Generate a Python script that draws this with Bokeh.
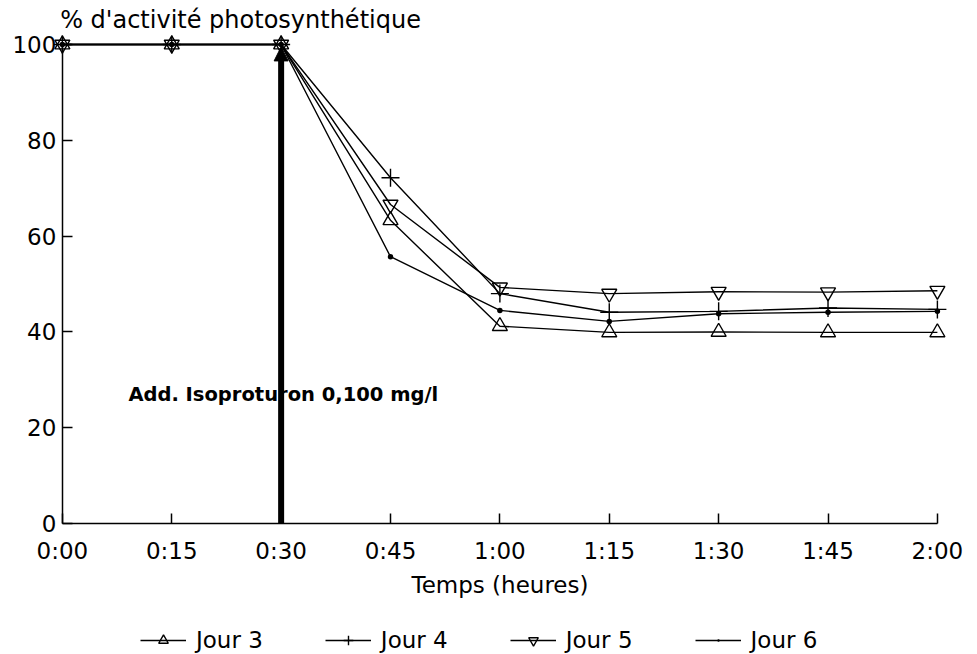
from bokeh.plotting import figure
from bokeh.models import (FixedTicker, Legend, LegendItem, Arrow, NormalHead, Label)
from bokeh.embed import file_html
from bokeh.resources import INLINE

# ---- data ----
minutes = [0, 15, 30, 45, 60, 75, 90, 105, 120]
tick_labels = ["0:00", "0:15", "0:30", "0:45", "1:00", "1:15", "1:30", "1:45", "2:00"]
y_ticks = [0, 20, 40, 60, 80, 100]
jour3 = [100, 100, 100, 63.3, 41.2, 39.9, 40.0, 39.9, 39.9]
jour4 = [100, 100, 100, 72.2, 48.0, 44.1, 44.3, 45.0, 44.7]
jour5 = [100, 100, 100, 66.6, 49.3, 48.0, 48.4, 48.3, 48.6]
jour6 = [100, 100, 100, 55.7, 44.5, 42.2, 43.8, 44.1, 44.3]
series_names = ["Jour 3", "Jour 4", "Jour 5", "Jour 6"]
addition_time = 30
addition_text = "Add. Isoproturon 0,100 mg/l"
y_title = "% d'activité photosynthétique"
x_title = "Temps (heures)"

FONT = "DejaVu Sans"

p = figure(frame_width=972, frame_height=654,
           x_range=(-7.8, 125.5), y_range=(-27.34, 109.19),
           output_backend="svg", toolbar_location=None,
           min_border_left=5, min_border_right=0, min_border_top=0,
           min_border_bottom=0, background_fill_color="white",
           border_fill_color="white")
p.outline_line_color = None
p.xgrid.visible = False
p.ygrid.visible = False

# x axis
xa = p.xaxis[0]
xa.fixed_location = 0
xa.ticker = FixedTicker(ticks=minutes)
xa.major_label_overrides = {m: t for m, t in zip(minutes, tick_labels)}
xa.bounds = (0, 120)
xa.major_tick_in = 10
xa.major_tick_out = 0
xa.minor_tick_in = 0
xa.minor_tick_out = 0
xa.axis_line_width = 1.5
xa.major_tick_line_width = 1.5
xa.major_label_text_font = FONT
xa.major_label_text_font_size = "23px"
xa.major_label_text_color = "black"
xa.major_label_standoff = 14
xa.axis_label = x_title
xa.axis_label_text_font = FONT
xa.axis_label_text_font_size = "23px"
xa.axis_label_text_font_style = "normal"
xa.axis_label_text_color = "black"
xa.axis_label_standoff = 5

# y axis
ya = p.yaxis[0]
ya.fixed_location = 0
ya.ticker = FixedTicker(ticks=y_ticks)
ya.bounds = (0, 100)
ya.major_tick_in = 10
ya.major_tick_out = 0
ya.minor_tick_in = 0
ya.minor_tick_out = 0
ya.axis_line_width = 1.5
ya.major_tick_line_width = 1.5
ya.major_label_text_font = FONT
ya.major_label_text_font_size = "23px"
ya.major_label_text_color = "black"
ya.major_label_standoff = 6

# series
series = [jour3, jour4, jour5, jour6]
markers = ["triangle", "cross", "inverted_triangle", "dot"]
sizes = [15, 18, 15, 22]
items = []
for name, vals, mk, sz in zip(series_names, series, markers, sizes):
    ln = p.line(minutes, vals, line_color="black", line_width=1.4)
    fill = "black" if mk == "dot" else None
    sc = p.scatter(minutes, vals, marker=mk, size=sz, line_color="black",
                   fill_color=fill, line_width=1.4)
    items.append(LegendItem(label=name, renderers=[ln, sc]))

# annotation text and arrow
p.add_layout(Label(x=30.3, y=27, text=addition_text,
                   text_align="center", text_baseline="middle",
                   text_font=FONT, text_font_style="bold",
                   text_font_size="19.5px", text_color="black"))
p.add_layout(Arrow(end=NormalHead(size=14, fill_color="black", line_color="black"),
                   x_start=addition_time, y_start=0, x_end=addition_time, y_end=99.5,
                   line_width=6, line_color="black"))

# y title
p.add_layout(Label(x=-0.3, y=105.2, text=y_title, text_align="left",
                   text_baseline="middle", text_font=FONT,
                   text_font_size="24px", text_color="black"))

legend = Legend(items=items, orientation="horizontal", location=(135, 1),
                glyph_width=46, glyph_height=24, label_standoff=10,
                spacing=62, padding=0, margin=0,
                border_line_color=None, background_fill_alpha=0,
                label_text_font=FONT, label_text_font_size="23px",
                label_text_color="black")
p.add_layout(legend, "center")

open("out.html", "w").write(file_html(p, INLINE))
